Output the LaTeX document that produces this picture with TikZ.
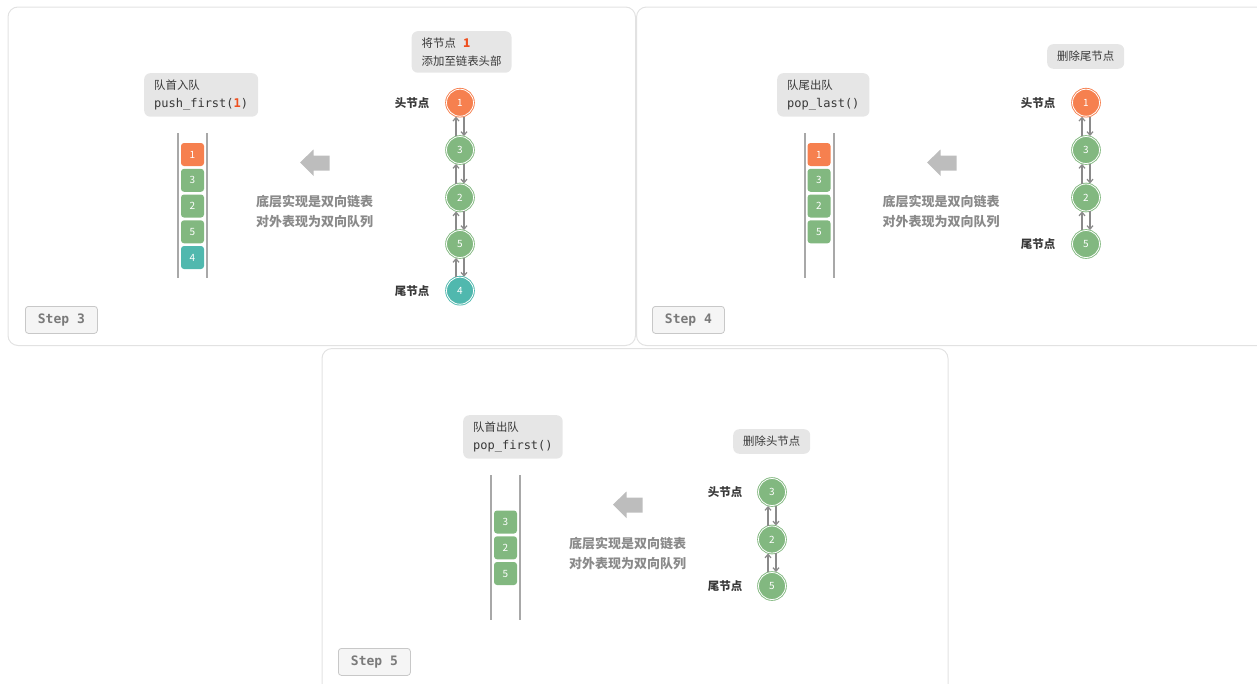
\documentclass[tikz,border=0pt]{standalone}
\usepackage{fontspec}
\setmainfont{Noto Sans CJK SC}
\setmonofont{DejaVu Sans Mono}
\usetikzlibrary{arrows.meta}
\definecolor{qorange}{HTML}{F6804F}
\definecolor{qgreen}{HTML}{82B880}
\definecolor{qteal}{HTML}{50B8AE}
\definecolor{qred}{HTML}{EE5020}
\definecolor{tagc}{HTML}{E6E6E6}
\definecolor{textc}{HTML}{383838}
\definecolor{graytext}{HTML}{8A8A8A}
\definecolor{bigarrowc}{HTML}{BDBDBD}
\definecolor{linkc}{HTML}{8A8A8A}
\definecolor{qlinec}{HTML}{A8A8A8}
\definecolor{panelc}{HTML}{E2E2E2}
\definecolor{stepfill}{HTML}{F5F5F5}
\definecolor{stepdraw}{HTML}{C8C8C8}
\definecolor{steptext}{HTML}{7A7A7A}
\newcommand{\codefont}{\fontsize{12}{18}\selectfont\ttfamily}
\tikzset{
  panel/.style={draw=panelc, line width=1pt, rounded corners=10pt},
  lnode/.style={circle, fill=#1, draw=#1, double=white, double distance=0.8pt, line width=0.9pt,
    minimum size=27pt, inner sep=0pt, text=white, font=\fontsize{10}{10}\selectfont},
  qbox/.style={rounded corners=3pt, fill=#1, minimum width=23pt, minimum height=23pt,
    inner sep=0pt, text=white, font=\fontsize{10}{10}\selectfont},
  tag/.style={fill=tagc, rounded corners=6pt, align=left, text=textc, inner xsep=10pt,
    inner ysep=6.5pt, font=\fontsize{11.4}{18}\selectfont, anchor=north west},
  note/.style={align=center, text=graytext, font=\fontsize{13}{20}\selectfont\bfseries},
  hlabel/.style={anchor=east, text=textc, font=\fontsize{11.5}{12}\selectfont\bfseries},
  stepbox/.style={fill=stepfill, draw=stepdraw, line width=0.8pt, rounded corners=3pt,
    minimum width=72pt, minimum height=27pt, anchor=north west, inner sep=0pt,
    text=steptext, font=\fontsize{13}{13}\selectfont\ttfamily\bfseries},
  link/.style={draw=linkc, line width=1.2pt, -{Straight Barb[length=3.5pt,width=6pt]}},
  qline/.style={draw=qlinec, line width=1.3pt},
  bigarrow/.style={fill=bigarrowc}
}
\begin{document}
\begin{tikzpicture}[x=1pt,y=-1pt]
\useasboundingbox (0,0) rectangle (1257,683);
\clip (0,0) rectangle (1257,683);
% panels
\draw[panel] (8,7) rectangle (635.5,345.5);
\draw[panel] (636.5,7) rectangle (1267,345.5);
\draw[panel] (322,348.5) rectangle (948,700);

% ================= Panel 1 =================
\node[tag] (t1) at (144,73) {队首入队\\{\codefont push\_first({\color{qred}\bfseries 1})}};
\node[tag] (t1b) at (411.5,31) {将节点 {\color{qred}\fontsize{12}{18}\selectfont\bfseries\ \,1}\\添加至链表头部};
\draw[qline] (178,133) -- (178,278);
\draw[qline] (207,133) -- (207,278);
\node[qbox=qorange] (q1a) at (192.5,154.5) {1};
\node[qbox=qgreen]  (q1b) at (192.5,180.3) {3};
\node[qbox=qgreen]  (q1c) at (192.5,206) {2};
\node[qbox=qgreen]  (q1d) at (192.5,231.8) {5};
\node[qbox=qteal]   (q1e) at (192.5,257.5) {4};
\fill[bigarrow] (300,162.5) -- (313.5,149.5) -- (313.5,155.5) -- (329.5,155.5) -- (329.5,170.5) -- (313.5,170.5) -- (313.5,176) -- cycle;
\node[note] (n1) at (314.5,212) {底层实现是双向链表\\对外表现为双向队列};
\node[lnode=qorange] (c1a) at (460,102.7) {1};
\node[lnode=qgreen]  (c1b) at (460,150) {3};
\node[lnode=qgreen]  (c1c) at (460,197.5) {2};
\node[lnode=qgreen]  (c1d) at (460,244) {5};
\node[lnode=qteal]   (c1e) at (460,290.7) {4};
\foreach \u/\l in {c1a/c1b,c1b/c1c,c1c/c1d,c1d/c1e}{
  \draw[link] ([xshift=-4pt]\l.north) -- ([xshift=-4pt]\u.south);
  \draw[link] ([xshift=4pt]\u.south) -- ([xshift=4pt]\l.north);
}
\node[hlabel] (h1) at (433,103) {头节点};
\node[hlabel] (e1) at (433,291) {尾节点};
\node[stepbox] (s1) at (25,306) {Step 3};

% ================= Panel 2 =================
\node[tag] (t2) at (777,73) {队尾出队\\{\codefont pop\_last()}};
\node[tag, inner ysep=7pt] (t2b) at (1047,44) {删除尾节点};
\draw[qline] (805,133) -- (805,278);
\draw[qline] (834,133) -- (834,278);
\node[qbox=qorange] (q2a) at (819,154.5) {1};
\node[qbox=qgreen]  (q2b) at (819,180.3) {3};
\node[qbox=qgreen]  (q2c) at (819,206) {2};
\node[qbox=qgreen]  (q2d) at (819,231.8) {5};
\fill[bigarrow] (927,162.5) -- (940.5,149.5) -- (940.5,155.5) -- (956.5,155.5) -- (956.5,170.5) -- (940.5,170.5) -- (940.5,176) -- cycle;
\node[note] (n2) at (941,212) {底层实现是双向链表\\对外表现为双向队列};
\node[lnode=qorange] (c2a) at (1086,102.7) {1};
\node[lnode=qgreen]  (c2b) at (1086,150) {3};
\node[lnode=qgreen]  (c2c) at (1086,197.5) {2};
\node[lnode=qgreen]  (c2d) at (1086,244) {5};
\foreach \u/\l in {c2a/c2b,c2b/c2c,c2c/c2d}{
  \draw[link] ([xshift=-4pt]\l.north) -- ([xshift=-4pt]\u.south);
  \draw[link] ([xshift=4pt]\u.south) -- ([xshift=4pt]\l.north);
}
\node[hlabel] (h2) at (1059,103) {头节点};
\node[hlabel] (e2) at (1059,244) {尾节点};
\node[stepbox] (s2) at (652,306) {Step 4};

% ================= Panel 3 =================
\node[tag] (t3) at (463,415) {队首出队\\{\codefont pop\_first()}};
\node[tag, inner ysep=7pt] (t3b) at (733,429) {删除头节点};
\draw[qline] (491,475) -- (491,620);
\draw[qline] (520,475) -- (520,620);
\node[qbox=qgreen]  (q3b) at (505.5,522) {3};
\node[qbox=qgreen]  (q3c) at (505.5,547.8) {2};
\node[qbox=qgreen]  (q3d) at (505.5,573.5) {5};
\fill[bigarrow] (613,504.5) -- (626.5,491.5) -- (626.5,497.5) -- (642.5,497.5) -- (642.5,512.5) -- (626.5,512.5) -- (626.5,518) -- cycle;
\node[note] (n3) at (627.5,554) {底层实现是双向链表\\对外表现为双向队列};
\node[lnode=qgreen]  (c3b) at (772,492) {3};
\node[lnode=qgreen]  (c3c) at (772,539.5) {2};
\node[lnode=qgreen]  (c3d) at (772,586) {5};
\foreach \u/\l in {c3b/c3c,c3c/c3d}{
  \draw[link] ([xshift=-4pt]\l.north) -- ([xshift=-4pt]\u.south);
  \draw[link] ([xshift=4pt]\u.south) -- ([xshift=4pt]\l.north);
}
\node[hlabel] (h3) at (746,492) {头节点};
\node[hlabel] (e3) at (746,586) {尾节点};
\node[stepbox] (s3) at (338,648) {Step 5};
\end{tikzpicture}
\end{document}
